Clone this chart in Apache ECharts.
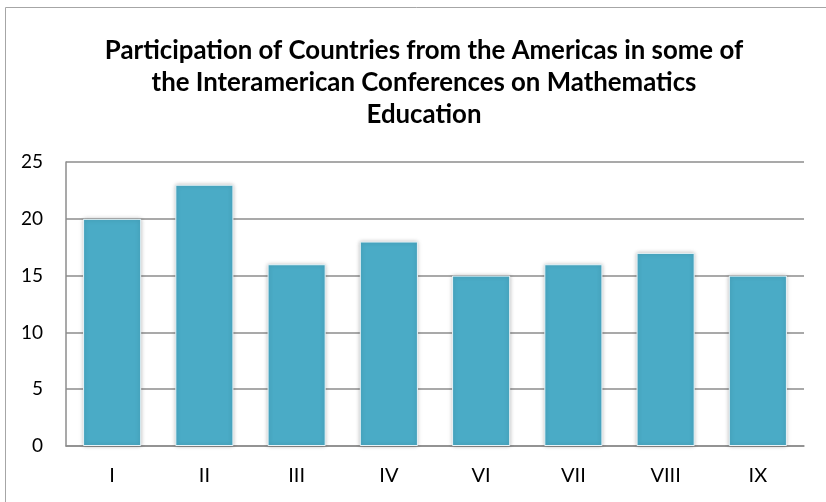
<!DOCTYPE html>
<html>
<head>
<meta charset="utf-8">
<script src="https://cdn.jsdelivr.net/npm/echarts@6/dist/echarts.min.js"></script>
<style>
    html, body { margin: 0; padding: 0; background: #fff; }
    #main { width: 826px; height: 502px; }
</style>
</head>
<body>
<div id="main"></div>
<script>
    // conferences (roman numerals as in the source)
    var conferences = ['I', 'II', 'III', 'IV', 'VI', 'VII', 'VIII', 'IX'];
    // number of participating countries
    var countries = [20, 23, 16, 18, 15, 16, 17, 15];

    var chart = echarts.init(document.getElementById('main'));

    var option = {
        animation: false,
        title: {
            text: 'Participation of Countries from the Americas in some of\nthe Interamerican Conferences on Mathematics\nEducation',
            left: 419,
            textAlign: 'center',
            top: 30,
            textStyle: {
                fontFamily: 'Lato',
                fontSize: 25.8,
                fontWeight: 'bold',
                color: '#000',
                lineHeight: 32
            }
        },
        // outer frame of the chart area
        graphic: [{
            type: 'rect',
            shape: { x: 5.5, y: 7.5, width: 900, height: 600 },
            style: { fill: 'none', stroke: '#a6a6a6', lineWidth: 1 },
            silent: true
        }],
        grid: {
            left: 66,
            right: 22,
            top: 162,
            bottom: 56
        },
        xAxis: {
            type: 'category',
            data: conferences,
            axisLine: { show: true, lineStyle: { color: '#8c8c8c', width: 1.5 } },
            axisTick: { show: false },
            axisLabel: {
                color: '#000',
                fontFamily: 'Lato',
                fontSize: 20,
                margin: 20
            }
        },
        yAxis: {
            type: 'value',
            min: 0,
            max: 25,
            interval: 5,
            axisLine: { show: true, lineStyle: { color: '#8c8c8c', width: 1.5 } },
            axisTick: { show: false },
            splitLine: { lineStyle: { color: '#8c8c8c', width: 1.5 } },
            axisLabel: {
                color: '#000',
                fontFamily: 'Lato',
                fontSize: 19,
                margin: 23
            }
        },
        series: [{
            type: 'bar',
            data: countries,
            barWidth: '63%',
            itemStyle: {
                color: '#4aabc6',
                borderColor: '#e8f3f7',
                borderWidth: 1,
                shadowBlur: 4,
                shadowColor: 'rgba(0,0,0,0.25)'
            }
        }]
    };

    chart.setOption(option);
</script>
</body>
</html>
